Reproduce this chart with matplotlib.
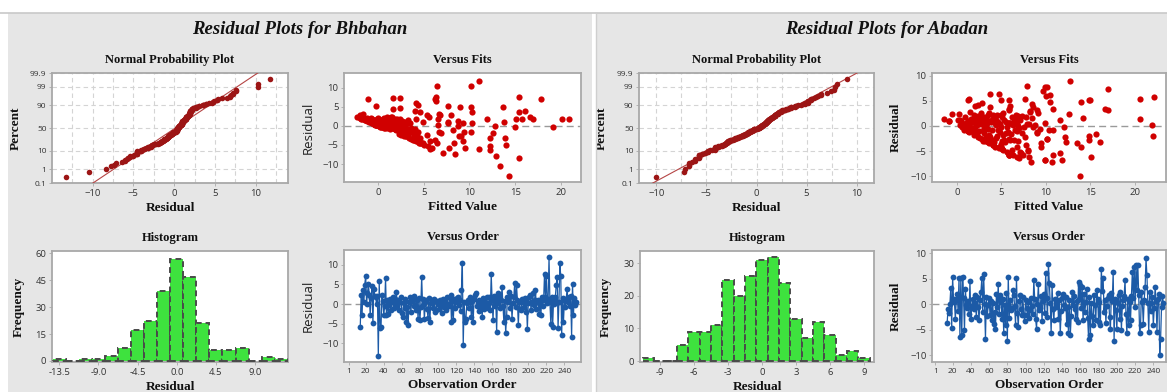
import matplotlib
matplotlib.use("Agg")
import matplotlib.pyplot as plt
from matplotlib.patches import Rectangle
from matplotlib.ticker import MultipleLocator
import numpy as np
from statistics import NormalDist

# ---------------- Bhbahan (observations 14..253) ----------------
bh_first_obs = 14
bh_resid = [
    -5.7, 2.4, -2.7, 3.5, 0.4, 4.9, 7.2, 0.1, 2.7, 5.2,
    2.2, -2.8, 1.5, 4.6, -4.9, 3.9, 2.1, 1.8, -0.1, 2.0,
    -13.2, 5.9, -6.0, -5.8, 2.3, 0.8, -2.8, -0.6, 6.5, -2.7,
    0.9, -2.6, -0.3, 1.2, -1.4, 0.5, 1.7, -0.9, 0.2, 1.4,
    3.1, -0.5, 1.0, -1.6, 0.6, 1.9, -2.2, -3.2, 0.3, -1.1,
    1.3, -4.5, -0.8, -5.4, 0.4, 1.8, -1.9, 0.7, 1.0, -0.4,
    2.0, -0.2, -1.6, 0.9, -3.7, 1.5, -4.1, -0.7, 6.9, -0.3,
    1.2, -3.9, 0.5, 1.0, -1.3, -3.5, 1.6, -4.5, 0.2, 1.0,
    0.5, -0.9, 1.4, -1.9, -1.6, 0.8, 0.1, -1.2, 1.1, -0.6,
    -2.4, 0.3, 1.3, -0.8, 0.6, -1.5, 1.9, 0.0, -0.4, 1.5,
    2.2, -4.5, 0.7, -4.1, 1.2, -0.9, 0.4, 1.6, 1.8, -0.2,
    0.9, -1.7, 3.5, 10.3, -10.4, 0.6, -4.5, -3.7, 0.2, 1.1,
    -1.0, 1.8, 0.4, -3.2, 0.8, -4.5, 1.3, 2.2, 2.7, -0.5,
    0.3, -1.8, 1.0, -0.7, 0.5, -3.2, 1.5, -1.2, 0.6, -0.3,
    1.8, -0.9, 0.2, 1.8, -1.5, 7.6, 0.9, -4.1, 2.1, -0.6,
    1.4, -7.1, 2.7, 0.3, 2.2, -1.0, 1.0, 4.3, -0.4, -4.5,
    0.7, -7.4, -3.2, 1.9, 0.5, 3.1, -1.1, 2.0, -3.7, 0.2,
    1.7, 5.4, -0.8, 4.8, 1.0, -5.4, 0.6, -1.3, -1.6, 1.2,
    0.4, -0.8, 1.5, -2.0, 0.9, -6.4, 0.3, 1.9, 2.2, -1.4,
    0.5, 2.8, -0.2, 1.1, 3.5, -1.2, 0.6, 1.0, -2.5, 0.8,
    -2.8, 1.7, -0.5, 0.9, 7.6, 1.9, 7.2, 0.2, 1.4, 11.8,
    0.4, -5.1, 1.9, -5.7, 0.8, -0.1, 1.9, 4.8, 6.9, -6.0,
    0.6, 10.3, 7.0, -7.8, 1.5, -4.5, 0.9, -0.7, 1.2, 3.9,
    0.4, 1.8, -0.6, 2.0, -8.3, 5.2, -2.8, 1.6, -0.3, 0.5,
]
bh_fitted = [
    7.8, -2.3, 4.3, 15.4, -0.4, 13.7, 1.65, 1.2, 6.8, -0.26,
    -1.6, 8.8, 0.4, 2.45, 5.0, 4.0, -2.0, 0.9, 8.7, -1.2,
    14.3, 4.1, 5.7, 9.5, 1.4, 2.2, 3.0, 2.4, 6.35, 2.8,
    -0.3, 9.1, 2.1, 8.7, 2.8, -0.4, 4.2, 1.9, 6.5, 1.8,
    6.7, 3.6, -0.9, 2.5, 7.7, 11.9, 2.3, 12.2, 0.2, 8.2,
    2.6, 4.6, 3.2, 12.2, 3.0, -0.7, 3.4, 0.4, 4.9, 1.4,
    1.1, 19.1, 6.7, -0.8, 3.9, 2.0, 4.2, 1.9, -1.1, 15.0,
    -0.2, 5.7, -0.5, 1.6, 3.0, 3.6, -1.4, 8.3, -0.1, 3.1,
    2.3, 2.2, 0.2, 2.6, 9.4, -0.7, -0.1, 2.2, 0.5, 0.8,
    2.5, 1.7, -0.9, 2.4, -0.5, 3.7, 15.7, 0.1, 1.9, 1.3,
    5.6, 4.7, -0.6, 4.3, -1.2, 3.3, 0.9, 0.8, 2.4, 0.3,
    -0.4, 4.1, 10.3, 6.4, 13.3, 9.3, 6.4, 6.2, 2.7, 1.8,
    2.9, -0.1, -0.3, 13.9, -0.7, 4.8, 0.6, 1.0, 5.3, 1.7,
    -0.2, 12.6, 7.6, 1.5, 1.1, 3.4, -1.0, 2.0, 3.5, 0.4,
    2.1, 4.0, -0.1, -1.8, 4.4, 6.3, 0.9, 9.25, 0.0, 2.0,
    3.3, 7.1, -2.0, 0.6, 1.5, 3.9, -0.6, 1.6, 0.6, 4.5,
    -0.6, 8.4, 4.6, -1.9, 0.3, -1.6, 2.4, 0.7, 3.8, 1.9,
    6.6, 4.4, 1.3, 9.0, 2.8, 5.5, -0.5, 3.5, 10.2, 0.1,
    2.5, 1.8, -0.5, 6.9, 1.2, 12.2, -0.3, 1.9, 16.6, 3.2,
    1.3, 8.0, 0.2, -1.0, 4.6, 2.7, 0.5, 13.8, 5.3, 2.5,
    3.1, 15.1, 0.7, 0.3, 15.4, 17.0, 2.45, -0.2, -1.4, 11.0,
    1.6, 14.0, 0.5, 5.9, 1.7, 12.8, 20.9, 10.2, 17.8, 11.0,
    10.3, 10.2, 6.2, 12.9, 2.3, 4.9, -0.8, 2.9, 1.0, 16.1,
    0.8, 20.1, 1.0, -0.8, 15.4, 7.6, 3.9, 1.4, 2.6, -0.5,
]
bh_bin_centers = [-13.5, -12.0, -10.5, -9.0, -7.5, -6.0, -4.5, -3.0, -1.5,
                  0.0, 1.5, 3.0, 4.5, 6.0, 7.5, 9.0, 10.5, 12.0]
bh_bin_counts = [1, 0, 1, 1, 3, 7, 17, 22, 39, 57, 47, 21, 6, 6, 7, 0, 2, 1]

# ---------------- Abadan (observations 14..251) ----------------
ab_first_obs = 14
ab_resid = [
    -3.6, -0.9, -1.7, 0.0, 3.2, -4.6, 5.4, 1.0, 0.4, -2.9,
    0.9, 2.1, -1.3, 5.1, -6.4, 5.1, -6.1, 5.4, 1.2, -5.1,
    3.1, -0.2, -0.8, 0.6, -1.8, 4.6, -2.8, -0.3, 1.1, -1.0,
    1.8, 0.3, -2.5, 1.5, -0.6, -3.0, 0.8, 2.4, 5.1, -1.5,
    5.9, 0.1, -6.7, 1.5, -2.3, -0.2, 1.3, -2.1, 0.7, -3.1,
    0.2, -3.8, -1.4, -4.9, 2.1, -0.5, 3.9, -1.9, 1.8, 0.5,
    -2.8, 1.0, -5.7, -0.1, -4.1, 2.2, -7.2, 5.4, -2.6, 0.8,
    -1.1, -0.8, 2.8, 1.8, -0.4, -4.1, 5.1, -1.6, -4.4, 0.6,
    1.8, -0.9, -2.1, 1.4, -2.1, -3.2, 0.9, -0.8, -2.0, 0.4,
    -2.7, -1.1, 1.2, -0.3, -1.8, 4.8, 1.1, -2.9, -4.8, 0.1,
    3.9, -1.2, -0.8, 1.6, -3.3, 0.7, 2.1, -1.7, 6.1, 1.3,
    -2.4, 8.0, 4.1, 0.3, -5.7, 3.8, -1.0, -3.1, 1.1, -0.6,
    0.5, 2.3, -2.8, 0.8, -5.7, -1.3, 1.2, 2.1, -0.2, -0.8,
    1.4, -3.8, -0.5, -5.7, 0.9, -6.1, -2.2, 2.5, -0.2, 1.7,
    -1.0, -2.8, 0.6, -3.4, 4.4, 1.0, 3.8, -0.7, 3.4, -3.1,
    2.0, -1.4, 0.4, 3.1, -2.6, -6.7, 1.5, -6.1, 0.2, -2.2,
    -4.1, 1.9, -0.2, -3.0, 2.8, 1.0, -3.4, 0.5, -4.1, 7.0,
    2.6, 5.1, -1.5, 0.9, -3.6, -0.3, 1.3, 1.8, -2.5, -4.8,
    2.2, 0.6, 6.4, -7.1, 1.1, -1.2, -4.8, 0.3, 1.8, -2.9,
    2.4, -5.1, -0.4, 0.8, 1.6, 4.8, -1.9, -5.7, 1.0, -4.1,
    0.5, -3.1, 1.7, 6.4, 1.2, 7.4, -0.6, 7.7, 2.9, 7.8,
    1.8, -5.7, -4.1, 2.5, 0.4, -3.8, 0.9, 3.4, 9.0, 5.7,
    0.2, -5.4, 2.5, -1.3, 0.2, 1.4, -4.1, -0.7, 3.4, 0.7,
    -5.4, 1.1, 2.0, -10.0, -6.7, -0.5, 1.6, 0.2,
]
ab_fitted = [
    4.0, 2.5, 5.2, 1.1, 5.8, 5.1, 20.6, 3.6, 6.8, 3.2,
    -0.9, 1.9, 7.3, 14.8, 7.0, 14.95, 8.1, 1.4, 4.4, 5.6,
    8.97, 0.6, 3.9, 2.2, 2.3, 2.8, 6.4, 8.6, 0.4, 1.6,
    3.0, 4.8, 10.1, 2.6, 1.0, 3.4, 5.5, -0.56, 1.2, 6.1,
    10.0, 3.3, 9.9, 7.0, 2.6, 7.5, 20.6, 12.1, 1.8, 4.2,
    0.3, 4.1, 3.1, 8.0, 4.9, 9.3, 6.0, 4.5, 2.0, 5.9,
    5.3, 1.3, 5.8, 6.9, 4.9, 3.5, 8.3, 7.6, 2.8, 3.8,
    8.97, 6.5, 1.5, 6.2, 0.9, 6.7, 5.8, 2.1, 4.7, 4.3,
    5.1, 1.3, 3.7, 2.9, 7.7, 3.5, 0.5, 10.3, 14.9, 2.7,
    6.0, 1.4, 3.9, 5.0, 1.9, 14.0, 7.1, 2.9, 6.2, 2.3,
    2.06, 5.7, 0.8, 8.4, 9.5, 1.6, 4.0, 3.6, 10.5, -1.5,
    4.4, 7.9, 2.4, 8.1, 10.8, 3.7, 1.2, 16.1, 5.3, 3.0,
    9.9, 0.2, 14.8, 4.6, 6.3, 2.0, 11.6, 6.6, 12.0, 1.7,
    4.1, 7.8, 3.5, 7.4, -0.9, 6.8, 3.3, 9.1, 5.6, 2.8,
    6.7, 3.9, 1.0, 13.5, 8.4, 6.4, 8.6, 4.6, 16.6, 5.4,
    2.4, 9.0, 0.7, 17.0, 5.9, 11.8, 3.2, 15.1, 21.9, 2.4,
    4.3, 7.3, 2.0, 6.9, 8.2, 4.2, 3.6, 3.4, 9.5, 9.7,
    5.2, 5.0, 15.6, 2.1, 5.0, 1.5, 6.6, 0.9, 10.1, 8.0,
    4.5, 5.8, 3.7, 10.7, 2.5, 4.8, 5.2, 3.1, 7.8, 5.1,
    12.6, 7.1, 7.0, 1.7, 14.2, 10.5, 22.0, 5.8, 3.9, 4.9,
    6.0, 12.3, 2.2, 4.7, 3.0, 17.0, 1.9, 9.9, 8.2, 10.1,
    4.3, 5.9, 4.7, 2.7, 7.9, 4.0, 1.4, 5.8, 12.7, 22.1,
    6.3, 11.6, 3.6, 5.5, 4.4, 1.6, 14.0, 10.8, 10.8, 2.9,
    7.2, 0.1, 6.9, 13.8, 9.9, 3.1, 3.3, 8.8,
]
ab_bin_centers = [-10, -9, -8, -7, -6, -5, -4, -3, -2, -1,
                  0, 1, 2, 3, 4, 5, 6, 7, 8, 9]
ab_bin_counts = [1, 0, 0, 5, 9, 9, 11, 25, 20, 26, 31, 32, 24, 13, 7, 12, 8, 2, 3, 1]

pct_ticks = [0.1, 1, 10, 50, 90, 99, 99.9]
pct_labels = ["0.1", "1", "10", "50", "90", "99", "99.9"]
order_ticks = [1, 20, 40, 60, 80, 100, 120, 140, 160, 180, 200, 220, 240]

# ---------------- style ----------------
W, H = 1167, 392
PANEL = "#e6e6e6"
SPINE = "#a8a8a8"
GRID = "#d4d4d4"
NPP_DOT = "#9c1515"
NPP_LINE = "#b54545"
FIT_DOT = "#d00000"
ORD_BLUE = "#1c5aa6"
HIST_FILL = "#3ee23e"
HIST_EDGE = "#4a4a4a"
SERIF = "Liberation Serif"
SANS = "Open Sans"
nd = NormalDist()

fig = plt.figure(figsize=(W / 100, H / 100), dpi=100, facecolor="white")


def px_rect(x0, y0, x1, y1):
    return [x0 / W, 1 - y1 / H, (x1 - x0) / W, (y1 - y0) / H]


# background panels
fig.patches.append(Rectangle((8 / W, 0), (592 - 8) / W, 1 - 13 / H, transform=fig.transFigure,
                             facecolor=PANEL, edgecolor="none", zorder=-10))
fig.patches.append(Rectangle((596 / W, 0), (W - 596) / W, 1 - 13 / H, transform=fig.transFigure,
                             facecolor=PANEL, edgecolor="none", zorder=-10))
fig.add_artist(plt.Line2D([0, 1], [1 - 13 / H] * 2, color="#c8c8c8", lw=1.2, transform=fig.transFigure))
fig.add_artist(plt.Line2D([596 / W] * 2, [0, 1 - 13 / H], color="#cfcfcf", lw=1.0, transform=fig.transFigure))


def style_axes(ax, sub_title, xlabel, ylabel, ylab_x, ylabel_serif=True):
    ax.set_facecolor("white")
    for s in ax.spines.values():
        s.set_color(SPINE)
        s.set_linewidth(1.3)
    ax.tick_params(length=2, width=0.6, color=SPINE, labelsize=6.8, labelcolor="#333333", pad=2)
    for lab in ax.get_xticklabels() + ax.get_yticklabels():
        lab.set_fontfamily(SANS)
    ax.set_title(sub_title, fontfamily=SERIF, fontweight="bold", fontsize=9, pad=7, color="#111111")
    ax.set_xlabel(xlabel, fontfamily=SERIF, fontweight="bold", fontsize=9.5, labelpad=3, color="#111111")
    if ylabel_serif:
        ax.set_ylabel(ylabel, fontfamily=SERIF, fontweight="bold", fontsize=9.5, color="#111111")
    else:
        ax.set_ylabel(ylabel, fontfamily=SANS, fontsize=9.5, color="#222222")
    ax.yaxis.set_label_coords(ylab_x, 0.5)


def draw_npp(rect, resid, xlim, ylab_x):
    ax = fig.add_axes(px_rect(*rect))
    r = np.sort(np.asarray(resid, dtype=float))
    n = len(r)
    z = np.array([nd.inv_cdf((i - 0.3) / (n + 0.4)) for i in range(1, n + 1)])
    mu, sd = r.mean(), r.std(ddof=1)
    zl = np.array([-3.3, 3.3])
    ax.plot(mu + sd * zl, zl, color=NPP_LINE, lw=0.8, zorder=3)
    ax.scatter(r, z, s=16, color=NPP_DOT, linewidths=0, zorder=4)
    ax.set_xlim(*xlim)
    ax.set_ylim(nd.inv_cdf(0.001), nd.inv_cdf(0.999))
    ax.set_yticks([nd.inv_cdf(p / 100) for p in pct_ticks])
    ax.set_yticklabels(pct_labels)
    ax.xaxis.set_major_locator(MultipleLocator(5))
    ax.xaxis.set_minor_locator(MultipleLocator(2.5))
    ax.tick_params(axis="x", which="minor", length=0)
    ax.grid(True, which="both", axis="x", color=GRID, lw=0.8, ls=(0, (4, 3)))
    ax.grid(True, which="major", axis="y", color=GRID, lw=0.8, ls=(0, (4, 3)))
    ax.set_axisbelow(True)
    style_axes(ax, "Normal Probability Plot", "Residual", "Percent", ylab_x)
    for lab in ax.get_yticklabels():
        lab.set_fontsize(6)
    return ax


def draw_fits(rect, fitted, resid, xlim, ylim, ylab_x, serif_ylabel):
    ax = fig.add_axes(px_rect(*rect))
    ax.axhline(0, color="#9a9a9a", lw=1.0, ls=(0, (5, 3)), zorder=1)
    ax.scatter(fitted, resid, s=20, color=FIT_DOT, linewidths=0, zorder=3)
    ax.set_xlim(*xlim)
    ax.set_ylim(*ylim)
    ax.set_xticks([0, 5, 10, 15, 20])
    ax.set_yticks([-10, -5, 0, 5, 10])
    style_axes(ax, "Versus Fits", "Fitted Value", "Residual", ylab_x, serif_ylabel)
    return ax


def draw_hist(rect, centers, counts, width, xlim, ylim, xticks, xticklabels, yticks, ylab_x):
    ax = fig.add_axes(px_rect(*rect))
    ax.bar(centers, counts, width=width, color=HIST_FILL, edgecolor=HIST_EDGE,
           linewidth=1.4, linestyle=(0, (3, 2)), zorder=3)
    ax.set_xlim(*xlim)
    ax.set_ylim(*ylim)
    ax.set_xticks(xticks)
    ax.set_xticklabels(xticklabels)
    ax.set_yticks(yticks)
    style_axes(ax, "Histogram", "Residual", "Frequency", ylab_x)
    return ax


def draw_order(rect, first_obs, resid, xlim, ylim, yticks, ylab_x, serif_ylabel):
    ax = fig.add_axes(px_rect(*rect))
    obs = first_obs + np.arange(len(resid))
    ax.axhline(0, color="#9a9a9a", lw=1.0, ls=(0, (5, 3)), zorder=1)
    ax.plot(obs, resid, color=ORD_BLUE, lw=0.9, marker="o", ms=4.2, mec=ORD_BLUE,
            mfc=ORD_BLUE, mew=0, zorder=3)
    ax.set_xlim(*xlim)
    ax.set_ylim(*ylim)
    ax.set_xticks(order_ticks)
    ax.set_yticks(yticks)
    style_axes(ax, "Versus Order", "Observation Order", "Residual", ylab_x, serif_ylabel)
    for lab in ax.get_xticklabels():
        lab.set_fontsize(6)
    return ax


# ---------------- Bhbahan panel ----------------
fig.text(300 / W, 1 - 30 / H, "Residual Plots for Bhbahan", ha="center", va="center",
         fontfamily=SERIF, fontweight="bold", fontstyle="italic", fontsize=13.5, color="#111111")
draw_npp((52, 73, 288, 183), bh_resid, (-14.97, 13.95), -0.127)
draw_fits((344, 73, 581, 182), bh_fitted, bh_resid, (-3.73, 22.2), (-14.7, 13.8), -0.122, False)
draw_hist((52, 251, 288, 362), bh_bin_centers, bh_bin_counts, 1.5, (-14.34, 12.78), (-0.6, 61.3),
          [-13.5, -9.0, -4.5, 0.0, 4.5, 9.0], ["-13.5", "-9.0", "-4.5", "0.0", "4.5", "9.0"],
          [0, 15, 30, 45, 60], -0.114)
draw_order((344, 250, 581, 362), bh_first_obs, bh_resid, (-4.0, 258.4), (-14.7, 13.7),
           [-10, -5, 0, 5, 10], -0.122, False)

# ---------------- Abadan panel ----------------
fig.text(887 / W, 1 - 30 / H, "Residual Plots for Abadan", ha="center", va="center",
         fontfamily=SERIF, fontweight="bold", fontstyle="italic", fontsize=13.5, color="#111111")
draw_npp((639, 73, 874, 183), ab_resid, (-11.73, 11.73), -0.132)
draw_fits((932, 73, 1166, 182), ab_fitted, ab_resid, (-2.8, 23.5), (-11.1, 10.5), -0.128, True)
draw_hist((640, 251, 874, 362), ab_bin_centers, ab_bin_counts, 1.0, (-10.76, 9.88), (-0.3, 33.8),
          [-9, -6, -3, 0, 3, 6, 9], ["-9", "-6", "-3", "0", "3", "6", "9"], [0, 10, 20, 30], -0.12)
draw_order((932, 250, 1166, 362), ab_first_obs, ab_resid, (-2.6, 253.9), (-11.3, 10.66),
           [-10, -5, 0, 5, 10], -0.128, True)

fig.savefig("out.png", dpi=100, facecolor="white")
